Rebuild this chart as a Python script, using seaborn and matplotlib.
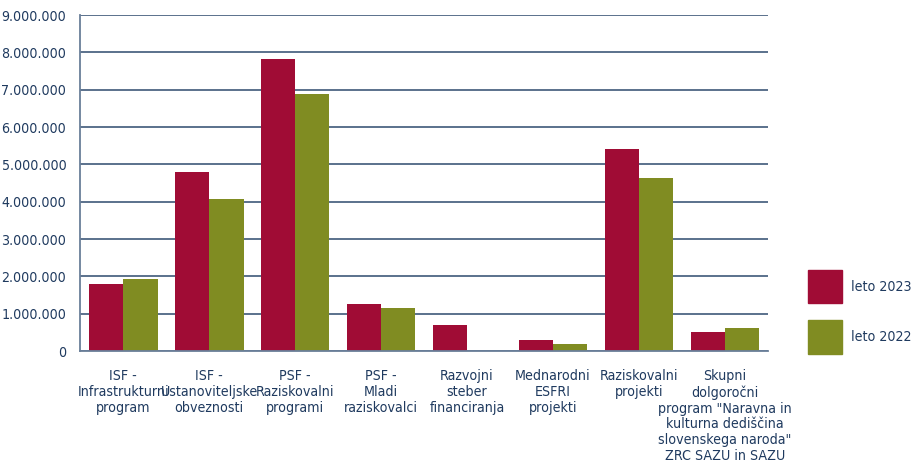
import matplotlib
matplotlib.use("Agg")
import matplotlib.pyplot as plt
import matplotlib.font_manager as fm
import seaborn as sns
import pandas as pd
from matplotlib.ticker import FuncFormatter, FixedLocator

kategorije = [
    "ISF -\nInfrastrukturni\nprogram",
    "ISF -\nUstanoviteljske\nobveznosti",
    "PSF -\nRaziskovalni\nprogrami",
    "PSF -\nMladi\nraziskovalci",
    "Razvojni\nsteber\nfinanciranja",
    "Mednarodni\nESFRI\nprojekti",
    "Raziskovalni\nprojekti",
    "Skupni\ndolgoročni\nprogram \"Naravna in\nkulturna dediščina\nslovenskega naroda\"\nZRC SAZU in SAZU",
]
leto_2023 = [1790000, 4790000, 7820000, 1260000, 700000, 290000, 5410000, 510000]
leto_2022 = [1930000, 4070000, 6880000, 1150000, 0, 180000, 4630000, 620000]
serije = ["leto 2023", "leto 2022"]
barve = ["#A00C35", "#808C22"]

df = pd.DataFrame({
    "kategorija": kategorije * 2,
    "vrednost": leto_2023 + leto_2022,
    "leto": [serije[0]] * len(kategorije) + [serije[1]] * len(kategorije),
})

sns.set_style("white")
# ozka pisava (DejaVu Sans Condensed), podobna izvirni
fonti = fm.fontManager.ttflist
ozki = [f for f in fonti if f.stretch in ("condensed", "semi-condensed") and f.name == "DejaVu Sans"]
plt.rcParams["font.family"] = ["DejaVu Sans"]
plt.rcParams["font.stretch"] = "condensed" if ozki else "normal"
tekst = "#1F3A5F"
velikost = 10.2 if ozki else 9

fig = plt.figure(figsize=(9.11, 4.72), dpi=100)
ax = fig.add_axes([0.088, 0.256, 0.755, 0.712])

sns.barplot(data=df, x="kategorija", y="vrednost", hue="leto", palette=barve,
            width=0.8, saturation=1, linewidth=0, ax=ax, legend=False)

ax.set_ylim(0, 9000000)
ax.set_xlim(-0.5, len(kategorije) - 0.5)
ax.set_yticks(range(0, 9000001, 1000000))
ax.yaxis.set_major_formatter(FuncFormatter(lambda v, p: f"{int(v):,}".replace(",", ".")))
ax.grid(axis="y", color="#2E4A6E", linewidth=1.1)
ax.set_axisbelow(True)
ax.set_xlabel("")
ax.set_ylabel("")

for s in ["top", "right"]:
    ax.spines[s].set_visible(False)
for s in ["left", "bottom"]:
    ax.spines[s].set_color("#6A7F99")
    ax.spines[s].set_linewidth(1.3)

ax.xaxis.set_minor_locator(FixedLocator([i - 0.5 for i in range(len(kategorije) + 1)]))
ax.tick_params(axis="x", which="major", length=0, pad=13, labelsize=velikost, labelcolor=tekst)
ax.tick_params(axis="x", which="minor", length=6, width=1.2, color="#6A7F99", direction="out")
ax.tick_params(axis="y", length=5, width=1.2, color="#6A7F99", labelsize=velikost, labelcolor=tekst, pad=5)
for lab in ax.get_xticklabels():
    lab.set_linespacing(1.17)
    lab.set_ha("center")

for i, (b, s) in enumerate(zip(barve, serije)):
    y0 = 0.357 - i * 0.107
    fig.patches.append(plt.Rectangle((0.887, y0), 0.037, 0.072, color=b,
                                     transform=fig.transFigure, figure=fig))
    fig.text(0.934, y0 + 0.036, s, va="center", ha="left", fontsize=velikost, color=tekst)

fig.savefig("out.png", dpi=100)
